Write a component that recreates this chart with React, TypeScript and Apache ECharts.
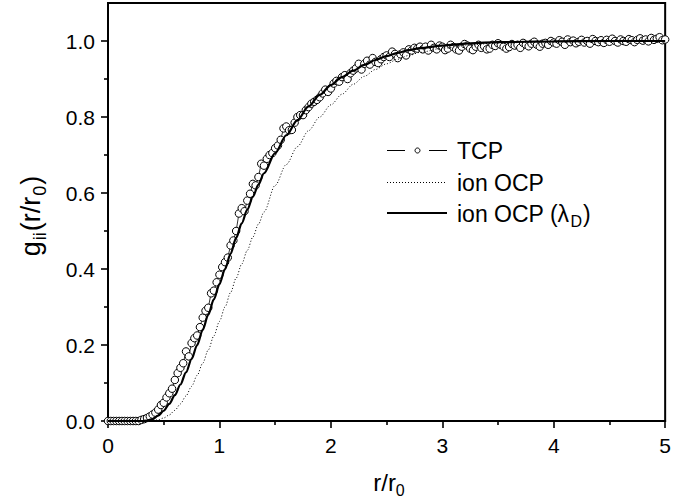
import React, { useEffect, useRef } from "react";
import * as echarts from "echarts";

const FONT = "'Liberation Sans', Arial, Helvetica, sans-serif";

// x axis ticks
const X_MIN = 0;
const X_MAX = 5;
const X_INTERVAL = 1;
// y axis ticks
const Y_MIN = 0;
const Y_MAX = 1.1;
const Y_MAJOR_TICKS = [0, 0.2, 0.4, 0.6, 0.8, 1.0];
const Y_MINOR_TICKS = [0.1, 0.3, 0.5, 0.7, 0.9];

// TCP simulation: g values sampled every 0.025 in r/r0, from 0 to 5
const TCP_STEP = 0.025;
const TCP_Y = [
  0, 0, 0, 0, 0, 0, 0, 0, 0, 0, 0, 0, 0.003, 0.005, 0.008, 0.012, 0.017, 0.022, 0.03, 0.042,
  0.048, 0.062, 0.073, 0.085, 0.108, 0.126, 0.14, 0.152, 0.183, 0.17, 0.205, 0.218, 0.225, 0.247, 0.272, 0.29, 0.298, 0.336, 0.343, 0.365,
  0.385, 0.405, 0.418, 0.43, 0.462, 0.475, 0.5, 0.546, 0.56, 0.552, 0.58, 0.598, 0.624, 0.62, 0.642, 0.677, 0.672, 0.69, 0.7, 0.705,
  0.718, 0.725, 0.74, 0.77, 0.775, 0.765, 0.766, 0.785, 0.8, 0.805, 0.805, 0.818, 0.826, 0.835, 0.84, 0.845, 0.852, 0.862, 0.872, 0.866,
  0.875, 0.888, 0.895, 0.893, 0.905, 0.91, 0.9, 0.915, 0.922, 0.928, 0.94, 0.925, 0.94, 0.948, 0.938, 0.955, 0.945, 0.942, 0.952, 0.958,
  0.962, 0.958, 0.972, 0.966, 0.955, 0.965, 0.97, 0.962, 0.978, 0.975, 0.982, 0.98, 0.985, 0.978, 0.985, 0.975, 0.99, 0.982, 0.978, 0.988,
  0.985, 0.976, 0.98, 0.99, 0.984, 0.978, 0.975, 0.985, 0.992, 0.988, 0.98, 0.976, 0.985, 0.99, 0.982, 0.986, 0.978, 0.98, 0.99, 0.987,
  0.994, 0.99, 0.985, 0.98, 0.984, 0.992, 0.988, 0.99, 0.982, 0.995, 0.99, 0.986, 0.993, 0.998, 0.99, 0.985, 0.993, 0.995, 0.99, 1.0,
  0.996, 0.993, 1.002, 0.998, 0.99, 1.004, 0.997, 1.001, 0.994, 0.998, 1.003, 0.996, 1.0, 0.993, 1.005, 1.0, 0.997, 1.002, 0.995, 1.003,
  0.998, 1.006, 1.0, 0.996, 1.004, 1.0, 0.998, 1.005, 1.002, 0.997, 1.003, 1.007, 1.001, 1.004, 0.999, 1.008, 1.003, 1.006, 1.01, 1.002, 1.004,
];

// ion OCP curve (dotted)
const OCP: [number, number][] = [
  [0, 0], [0.38, 0], [0.45, 0.003], [0.5, 0.008], [0.55, 0.016], [0.6, 0.028], [0.65, 0.045],
  [0.7, 0.066], [0.75, 0.091], [0.8, 0.12], [0.85, 0.152], [0.9, 0.187], [0.95, 0.224],
  [1.0, 0.262], [1.05, 0.3], [1.1, 0.338], [1.15, 0.376], [1.2, 0.413], [1.25, 0.449],
  [1.3, 0.484], [1.35, 0.518], [1.4, 0.55], [1.5, 0.62], [1.6, 0.675], [1.7, 0.722],
  [1.8, 0.764], [1.9, 0.8], [2.0, 0.832], [2.1, 0.86], [2.2, 0.886], [2.3, 0.907],
  [2.4, 0.925], [2.5, 0.94], [2.6, 0.952], [2.7, 0.962], [2.8, 0.97], [3.0, 0.981],
  [3.25, 0.99], [3.5, 0.995], [4.0, 0.998], [4.5, 1.0], [5.0, 1.0],
];

// ion OCP (lambda_D) curve (solid)
const OCP_LD: [number, number][] = [
  [0, 0], [0.3, 0], [0.35, 0.001], [0.4, 0.005], [0.45, 0.014], [0.5, 0.027], [0.55, 0.045],
  [0.6, 0.068], [0.65, 0.096], [0.7, 0.128], [0.75, 0.163], [0.8, 0.2], [0.85, 0.24],
  [0.9, 0.28], [0.95, 0.32], [1.0, 0.36], [1.05, 0.4], [1.1, 0.44], [1.15, 0.482],
  [1.2, 0.52], [1.25, 0.556], [1.3, 0.59], [1.35, 0.622], [1.4, 0.652], [1.5, 0.705],
  [1.6, 0.752], [1.7, 0.792], [1.8, 0.828], [1.9, 0.858], [2.0, 0.884], [2.1, 0.905],
  [2.2, 0.922], [2.3, 0.937], [2.4, 0.95], [2.5, 0.96], [2.6, 0.969], [2.7, 0.976],
  [2.8, 0.981], [3.0, 0.988], [3.25, 0.994], [3.5, 0.997], [4.0, 0.999], [4.5, 1.0], [5.0, 1.0],
];

const SERIES_NAMES = ["TCP", "ion OCP", "ion OCP (λD)"];

export default function App() {
  const ref = useRef<HTMLDivElement>(null);

  useEffect(() => {
    if (!ref.current) return;
    const chart = echarts.init(ref.current, null, { renderer: "svg" });

    const tcpData = TCP_Y.map((y, i) => [+(i * TCP_STEP).toFixed(3), y]);

    const black = "#000";
    const axisW = 2;

    const option: any = {
      animation: false,
      backgroundColor: "#fff",
      grid: {
        left: 108,
        right: 5,
        top: 3,
        bottom: 80,
        show: true,
        borderColor: black,
        borderWidth: axisW,
        backgroundColor: "transparent",
      },
      xAxis: {
        type: "value",
        min: X_MIN,
        max: X_MAX,
        interval: X_INTERVAL,
        axisLine: { show: true, lineStyle: { color: black, width: axisW } },
        axisTick: { show: true, length: 7, lineStyle: { color: black, width: 1.6 } },
        minorTick: { show: true, splitNumber: 2, length: 4, lineStyle: { color: black, width: 1.6 } },
        splitLine: { show: false },
        minorSplitLine: { show: false },
        axisLabel: { fontSize: 21, color: black, fontFamily: FONT, margin: 14 },
      },
      yAxis: [
        {
          type: "value",
          min: Y_MIN,
          max: Y_MAX,
          axisLine: { show: true, lineStyle: { color: black, width: axisW } },
          axisTick: { show: true, length: 7, customValues: Y_MAJOR_TICKS, lineStyle: { color: black, width: 1.6 } },
          splitLine: { show: false },
          axisLabel: {
            fontSize: 21,
            color: black,
            fontFamily: FONT,
            margin: 13,
            customValues: Y_MAJOR_TICKS,
            formatter: (v: number) => v.toFixed(1),
          },
        },
        {
          type: "value",
          min: Y_MIN,
          max: Y_MAX,
          position: "left",
          axisLine: { show: false },
          axisTick: { show: true, length: 4, customValues: Y_MINOR_TICKS, lineStyle: { color: black, width: 1.6 } },
          axisLabel: { show: false },
          splitLine: { show: false },
        },
      ],
      series: [
        {
          name: SERIES_NAMES[0],
          type: "line",
          data: tcpData,
          showAllSymbol: true,
          symbol: "circle",
          symbolSize: 7.5,
          itemStyle: { color: "#fff", borderColor: black, borderWidth: 1 },
          lineStyle: { color: black, width: 0.8 },
          z: 2,
        },
        {
          name: SERIES_NAMES[1],
          type: "line",
          data: OCP,
          smooth: 0.3,
          smoothMonotone: "x",
          symbol: "none",
          lineStyle: { color: black, width: 1, type: [1, 2] },
          z: 3,
        },
        {
          name: SERIES_NAMES[2],
          type: "line",
          data: OCP_LD,
          smooth: 0.3,
          smoothMonotone: "x",
          symbol: "none",
          lineStyle: { color: black, width: 2.2 },
          z: 4,
        },
      ],
      graphic: [
        // legend: TCP
        { type: "line", shape: { x1: 387, y1: 150.5, x2: 405, y2: 150.5 }, style: { stroke: black, lineWidth: 1 } },
        { type: "circle", shape: { cx: 417.5, cy: 150.5, r: 2.5 }, style: { fill: "#fff", stroke: black, lineWidth: 1 } },
        { type: "line", shape: { x1: 429, y1: 150.5, x2: 447, y2: 150.5 }, style: { stroke: black, lineWidth: 1 } },
        {
          type: "text",
          x: 457,
          y: 151,
          style: { text: SERIES_NAMES[0], fontSize: 23, fontFamily: FONT, fill: black, align: "left", verticalAlign: "middle" },
        },
        // legend: ion OCP
        { type: "line", shape: { x1: 387, y1: 182.5, x2: 447, y2: 182.5 }, style: { stroke: black, lineWidth: 1, lineDash: [1, 2] } },
        {
          type: "text",
          x: 457,
          y: 183,
          style: { text: SERIES_NAMES[1], fontSize: 23, fontFamily: FONT, fill: black, align: "left", verticalAlign: "middle" },
        },
        // legend: ion OCP (lambda_D)
        { type: "line", shape: { x1: 387, y1: 213, x2: 447, y2: 213 }, style: { stroke: black, lineWidth: 2.2 } },
        {
          type: "text",
          x: 457,
          y: 214,
          style: {
            text: "{n|ion OCP (λ}{s|D}{n|)}",
            align: "left",
            verticalAlign: "middle",
            rich: {
              n: { fontSize: 23, fontFamily: FONT, color: black },
              s: { fontSize: 16, fontFamily: FONT, color: black, padding: [15, 1, 0, 1] },
            },
          },
        },
        // x axis title
        {
          type: "text",
          x: 389,
          y: 482,
          style: {
            text: "{n|r/r}{s|0}",
            align: "center",
            verticalAlign: "middle",
            rich: {
              n: { fontSize: 24, fontFamily: FONT, color: black },
              s: { fontSize: 16, fontFamily: FONT, color: black, padding: [16, 0, 0, 0] },
            },
          },
        },
        // y axis title
        {
          type: "text",
          x: 31,
          y: 216,
          rotation: Math.PI / 2,
          style: {
            text: "{n|g}{s|ii}{n|(r/r}{s|0}{n|)}",
            align: "center",
            verticalAlign: "middle",
            rich: {
              n: { fontSize: 27, fontFamily: FONT, color: black },
              s: { fontSize: 18, fontFamily: FONT, color: black, padding: [17, 1, 0, 1] },
            },
          },
        },
      ],
    };

    chart.setOption(option);
    return () => chart.dispose();
  }, []);

  return (
    <div
      ref={ref}
      style={{ position: "absolute", left: 0, top: 0, width: 674, height: 501, background: "#fff" }}
    />
  );
}
